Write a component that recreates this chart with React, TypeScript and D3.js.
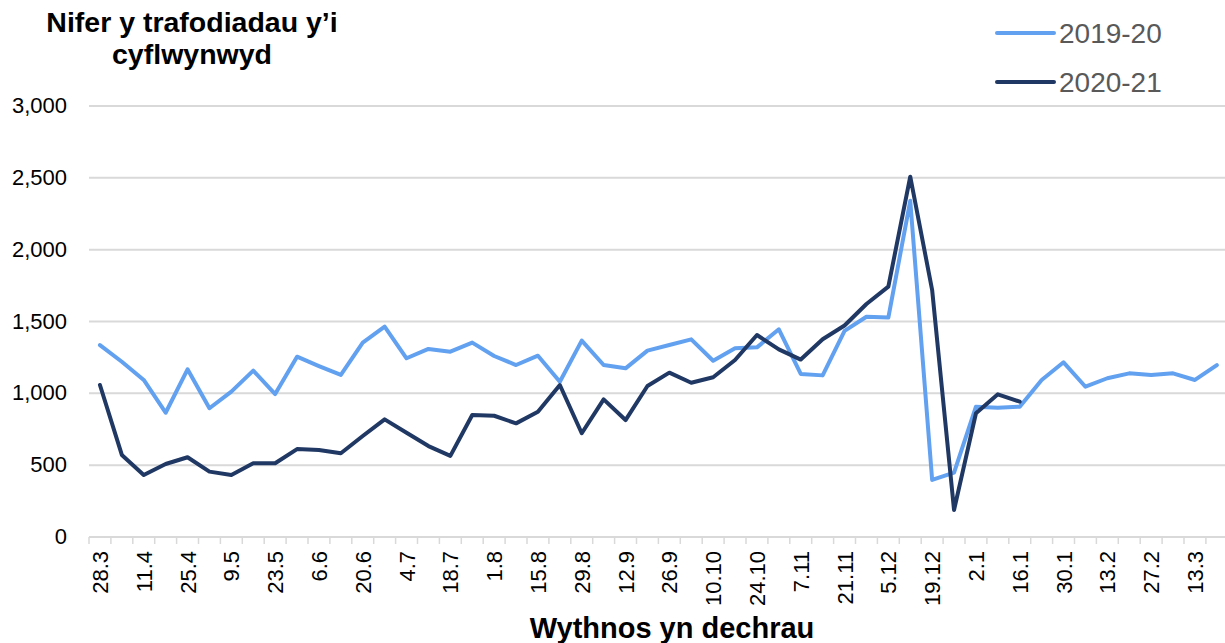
import { useEffect, useRef } from 'react';
import * as d3 from 'd3';

const WIDTH = 1225;
const HEIGHT = 643;

// week starting labels (every week, labels shown on every second week)
const weeks = [
  '28.3', '4.4', '11.4', '18.4', '25.4', '2.5', '9.5', '16.5', '23.5', '30.5',
  '6.6', '13.6', '20.6', '27.6', '4.7', '11.7', '18.7', '25.7', '1.8', '8.8',
  '15.8', '22.8', '29.8', '5.9', '12.9', '19.9', '26.9', '3.10', '10.10', '17.10',
  '24.10', '31.10', '7.11', '14.11', '21.11', '28.11', '5.12', '12.12', '19.12', '26.12',
  '2.1', '9.1', '16.1', '23.1', '30.1', '6.2', '13.2', '20.2', '27.2', '6.3',
  '13.3', '20.3',
];

const series2019 = [
  1336, 1220, 1093, 865, 1167, 896, 1012, 1158, 995, 1255,
  1190, 1128, 1353, 1464, 1244, 1309, 1290, 1353, 1260, 1197,
  1262, 1081, 1367, 1197, 1174, 1297, 1336, 1376, 1227, 1313,
  1320, 1446, 1135, 1125, 1435, 1533, 1527, 2340, 397, 448,
  907, 900, 907, 1093, 1216, 1046, 1105, 1139, 1128, 1139,
  1093, 1197,
];

const series2020 = [
  1058, 571, 432, 508, 555, 455, 432, 513, 513, 612,
  606, 583, 703, 819, 726, 633, 565, 849, 844, 791,
  872, 1058, 722, 958, 814, 1051, 1144, 1074, 1112, 1232,
  1406, 1306, 1235, 1376, 1472, 1622, 1743, 2508, 1719, 188,
  861, 993, 942,
];

const yTicks = [0, 500, 1000, 1500, 2000, 2500, 3000];

const LIGHT = '#62A0F0';
const DARK = '#203864';
const GRID = '#D9D9D9';
const FONT = '"Liberation Sans", Arial, sans-serif';

export default function App() {
  const svgRef = useRef<SVGSVGElement>(null);

  useEffect(() => {
    if (!svgRef.current) return;
    const svg = d3.select(svgRef.current);
    svg.selectAll('*').remove();

    const bandW = 21.9;
    const x0 = 89;
    const x = d3
      .scaleBand<number>()
      .domain(weeks.map((_, i) => i))
      .range([x0, x0 + weeks.length * bandW])
      .padding(0);
    const cx = (i: number) => x(i)! + x.bandwidth() / 2;

    const y = d3.scaleLinear().domain([0, 3000]).range([537, 106]);

    // gridlines
    svg
      .append('g')
      .selectAll('line')
      .data(yTicks)
      .join('line')
      .attr('x1', x0)
      .attr('x2', WIDTH)
      .attr('y1', (d) => y(d))
      .attr('y2', (d) => y(d))
      .attr('stroke', GRID)
      .attr('stroke-width', 2);

    // y labels
    svg
      .append('g')
      .selectAll('text')
      .data(yTicks)
      .join('text')
      .attr('x', 67)
      .attr('y', (d) => y(d) + 7)
      .attr('text-anchor', 'end')
      .attr('font-size', 22)
      .attr('fill', '#000')
      .text((d) => d3.format(',')(d));

    // x tick marks
    const tickPos = d3.range(weeks.length + 1).map((i) => x0 + i * bandW);
    svg
      .append('g')
      .selectAll('line')
      .data(tickPos)
      .join('line')
      .attr('x1', (d) => d)
      .attr('x2', (d) => d)
      .attr('y1', 537)
      .attr('y2', 544)
      .attr('stroke', GRID)
      .attr('stroke-width', 1.5);

    // x labels (every second week)
    svg
      .append('g')
      .selectAll('text')
      .data(weeks.map((w, i) => ({ w, i })).filter((d) => d.i % 2 === 0))
      .join('text')
      .attr('transform', (d) => `translate(${cx(d.i) + 8},551) rotate(-90)`)
      .attr('text-anchor', 'end')
      .attr('font-size', 22)
      .attr('fill', '#000')
      .text((d) => d.w);

    const line = d3
      .line<number>()
      .x((_, i) => cx(i))
      .y((d) => y(d));

    svg
      .append('path')
      .datum(series2019)
      .attr('d', line)
      .attr('fill', 'none')
      .attr('stroke', LIGHT)
      .attr('stroke-width', 4)
      .attr('stroke-linejoin', 'round')
      .attr('stroke-linecap', 'round');

    svg
      .append('path')
      .datum(series2020)
      .attr('d', line)
      .attr('fill', 'none')
      .attr('stroke', DARK)
      .attr('stroke-width', 4)
      .attr('stroke-linejoin', 'round')
      .attr('stroke-linecap', 'round');

    // title
    const title = svg
      .append('text')
      .attr('text-anchor', 'middle')
      .attr('font-size', 28.5)
      .attr('font-weight', 'bold')
      .attr('fill', '#000');
    title.append('tspan').attr('x', 192).attr('y', 32).text('Nifer y trafodiadau y’i');
    title.append('tspan').attr('x', 192).attr('y', 64).text('cyflwynwyd');

    // x axis title
    svg
      .append('text')
      .attr('x', 672)
      .attr('y', 638)
      .attr('text-anchor', 'middle')
      .attr('font-size', 29)
      .attr('font-weight', 'bold')
      .attr('fill', '#000')
      .text('Wythnos yn dechrau');

    // legend
    const legend = [
      { name: '2019-20', color: LIGHT, y: 33 },
      { name: '2020-21', color: DARK, y: 82 },
    ];
    legend.forEach((l) => {
      svg
        .append('line')
        .attr('x1', 997)
        .attr('x2', 1054)
        .attr('y1', l.y)
        .attr('y2', l.y)
        .attr('stroke', l.color)
        .attr('stroke-width', 4)
        .attr('stroke-linecap', 'round');
      svg
        .append('text')
        .attr('x', 1059)
        .attr('y', l.y + 10)
        .attr('font-size', 28)
        .attr('fill', '#595959')
        .text(l.name);
    });
  }, []);

  return (
    <svg
      ref={svgRef}
      width={WIDTH}
      height={HEIGHT}
      style={{ position: 'absolute', left: 0, top: 0, fontFamily: FONT, background: '#fff' }}
    />
  );
}
